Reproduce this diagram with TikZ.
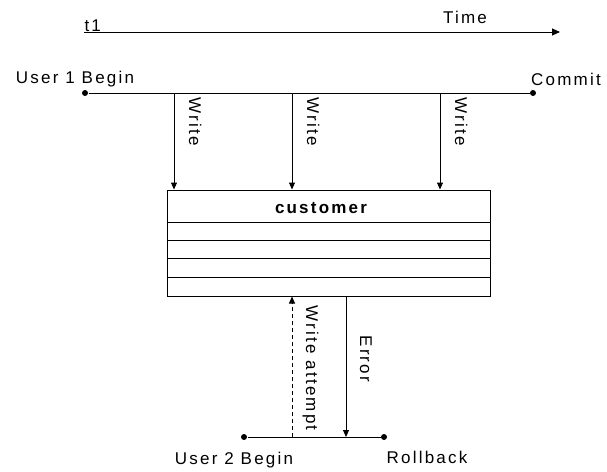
\documentclass[tikz,border=0pt]{standalone}
\usepackage{fontspec}
\setmainfont{Liberation Sans}[LetterSpace=13]
\usetikzlibrary{arrows.meta, positioning, calc}

\begin{document}
\begin{tikzpicture}[x=1pt, y=-1pt, line width=1pt,
        font=\fontsize{17}{20}\selectfont,
        tip/.style = {-{Triangle[length=7pt, width=6pt]}},
        dot/.style = {circle, fill, inner sep=0pt, minimum size=6pt},
        txt/.style = {anchor=base, inner sep=0pt},
        lbl/.style = {rotate=-90, anchor=base west, inner sep=0pt},
        tbl/.style = {draw, minimum width=323pt, minimum height=106pt}]
            \useasboundingbox (0,0) rectangle (607,471);

            % time axis
            \coordinate (t0) at (84,32);
            \coordinate (tend) at (560,32);
            \draw[-{Triangle[length=8pt, width=7pt]}] (t0) -- (tend);
            \node[txt, anchor=base west] (tlbl) at (84,31) {t1};
            \node[txt] (time) at (465,23) {Time};

            % user 1
            \node[dot] (u1b) at (85,93) {};
            \node[dot] (u1c) at (533,93) {};
            \draw (u1b) -- (u1c);
            \node[txt] (u1btxt) at (75,83) {User 1 Begin};
            \node[txt] (u1ctxt) at (566,85) {Commit};

            % customer table
            \node[tbl] (cust) at (328.5,243) {};
            \node[txt, font=\fontsize{17}{20}\selectfont\bfseries] (custtxt) at (321,213) {customer};
            \foreach \y in {222,240,258,277}
                \draw (cust.west |- 0,\y) -- (cust.east |- 0,\y);

            % writes
            \foreach \i/\x in {1/174, 2/292, 3/440} {
                \coordinate (w\i) at (\x,93);
                \draw[tip] (w\i) -- (w\i |- cust.north);
                \node[lbl] (wl\i) at ($(w\i)+(15,4)$) {Write};
            }

            % user 2
            \node[dot] (u2b) at (244,437) {};
            \node[dot] (u2r) at (384,437) {};
            \draw (u2b) -- (u2r);
            \node[txt] (u2btxt) at (234,464) {User 2 Begin};
            \node[txt] (u2rtxt) at (427,463) {Rollback};

            \coordinate (wa) at (292,437);
            \draw[tip, dash pattern=on 4pt off 3pt] (wa) -- (wa |- cust.south);
            \node[lbl] (walbl) at (306,305) {Write attempt};

            \coordinate (er) at (346,437);
            \draw[tip] (er |- cust.south) -- (er);
            \node[lbl] (erlbl) at (360,335) {Error};
        \end{tikzpicture}
\end{document}
